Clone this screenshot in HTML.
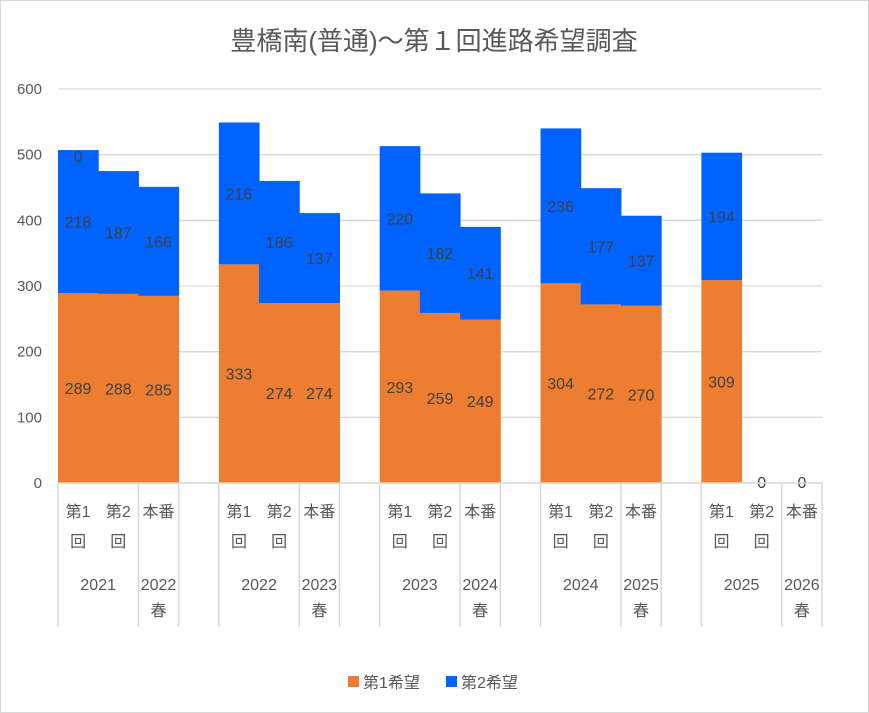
<!DOCTYPE html>
<html><head><meta charset="utf-8"><style>
body{margin:0;background:#fff}
svg{display:block;font-family:"Liberation Sans","Noto Sans CJK JP",sans-serif}
</style></head><body>
<svg id="c" width="869" height="713">
<rect x="0.5" y="0.5" width="868" height="712" fill="#fff" stroke="#d9d9d9"/>
<text x="434" y="50" text-anchor="middle" font-size="26" fill="#595959">豊橋南(普通)～第１回進路希望調査</text>
<g id="grid"></g><g id="bars"></g><g id="labels"></g><g id="axis"></g>
<g>
<rect x="348" y="676" width="11" height="11" fill="#ED7D31"/>
<text x="363" y="688" font-size="16" fill="#595959">第1希望</text>
<rect x="446" y="676" width="11" height="11" fill="#0063FF"/>
<text x="461" y="688" font-size="16" fill="#595959">第2希望</text>
</g>
</svg>
<script>
const categories=["第1回","第2回","本番","","第1回","第2回","本番","","第1回","第2回","本番","","第1回","第2回","本番","","第1回","第2回","本番"];
const series1=[289,288,285,null,333,274,274,null,293,259,249,null,304,272,270,null,309,0,0];
const series2=[218,187,166,null,216,186,137,null,220,182,141,null,236,177,137,null,194,null,null];
const yTicks=[0,100,200,300,400,500,600];
const groups=[["2021",0,2],["2022春",2,3],["",3,4],["2022",4,6],["2023春",6,7],["",7,8],["2023",8,10],["2024春",10,11],["",11,12],["2024",12,14],["2025春",14,15],["",15,16],["2025",16,18],["2026春",18,19]];
const NS="http://www.w3.org/2000/svg";
const X0=58,X1=822,Y0=483,Y1=89,ymax=600;
const bw=(X1-X0)/categories.length;
const y=v=>Y0-(v/ymax)*(Y0-Y1);
const x=i=>X0+i*bw;
function mk(tag,attrs,parent,txt){const e=document.createElementNS(NS,tag);for(const k in attrs)e.setAttribute(k,attrs[k]);if(txt!=null)e.textContent=txt;document.getElementById(parent).appendChild(e);return e;}
yTicks.forEach(t=>{
 const l=mk('line',{x1:X0,x2:X1,y1:y(t),y2:y(t),stroke:'#d9d9d9','stroke-width':1.3},'grid');
 
 
 const tx=mk('text',{x:42,y:y(t)+5,'text-anchor':'end','font-size':15,fill:'#595959'},'axis',t);
 
 
});
categories.forEach((c,i)=>{
 if(series1[i]==null)return;
 const a=series1[i],b=series2[i];
 const r1=mk('rect',{x:x(i),y:y(a),width:bw+0.5,height:Y0-y(a),fill:'#ED7D31'},'bars');
 
 
 const cx=x(i)+bw/2;
 const t1=mk('text',{x:cx,y:(a>0?(y(a)+Y0)/2:Y0-1)+6,'text-anchor':'middle','font-size':16,fill:'#404040'},'labels',a);
 
 
 if(b!=null){
  const r2=mk('rect',{x:x(i),y:y(a+b),width:bw+0.5,height:y(a)-y(a+b),fill:'#0063FF'},'bars');
  
  
  const t2=mk('text',{x:cx,y:(y(a)+y(a+b))/2+6,'text-anchor':'middle','font-size':16,fill:'#404040'},'labels',b);
  
  
 }
});
const t0=mk('text',{x:x(0)+bw/2,y:y(series1[0]+series2[0])+12,'text-anchor':'middle','font-size':16,fill:'#404040'},'labels','0');


const ax=mk('line',{x1:X0,x2:X1,y1:Y0,y2:Y0,stroke:'#d9d9d9','stroke-width':1.5},'axis');


const bounds=new Set([0]);groups.forEach(g=>{bounds.add(g[1]);bounds.add(g[2]);});
bounds.forEach(b=>{
 const l=mk('line',{x1:x(b),x2:x(b),y1:Y0,y2:627,stroke:'#d9d9d9','stroke-width':1.5},'axis');
 
 
});
categories.forEach((c,i)=>{
 if(!c)return;
 const cx=x(i)+bw/2;
 let l1,l2;
 if(c==="本番"){l1="本番";l2="";}else{l1=c.slice(0,2);l2="回";}
 const a=mk('text',{x:cx,y:517,'text-anchor':'middle','font-size':16,fill:'#595959'},'axis',l1);
 
 
 if(l2){const b=mk('text',{x:cx,y:547,'text-anchor':'middle','font-size':16,fill:'#595959'},'axis',l2);
 
 }
});
groups.forEach(g=>{
 if(!g[0])return;
 const cx=(x(g[1])+x(g[2]))/2;
 const yr=g[0].replace("春","");
 const a=mk('text',{x:cx,y:590,'text-anchor':'middle','font-size':16,fill:'#595959'},'axis',yr);
 
 
 if(g[0].endsWith("春")){const b=mk('text',{x:cx,y:616,'text-anchor':'middle','font-size':16,fill:'#595959'},'axis',"春");
 
 }
});
</script>
</body></html>
